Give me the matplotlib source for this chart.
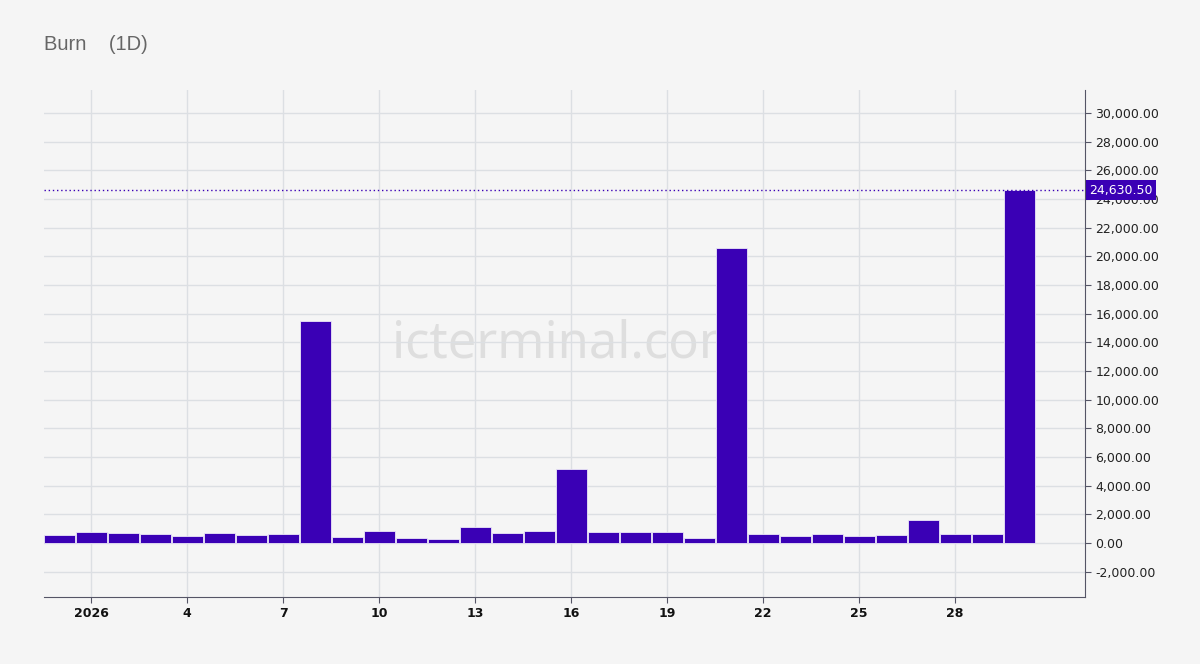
import datetime as dt
import matplotlib
matplotlib.use("Agg")
import matplotlib.pyplot as plt
import matplotlib.dates as mdates
from matplotlib.ticker import FuncFormatter

# daily burn, 2025-12-31 .. 2026-01-30
start = dt.date(2025, 12, 31)
burn = [535, 790, 700, 650, 465, 720, 580, 630, 15490, 395, 815,
        350, 303, 1116, 700, 815, 5165, 745, 745, 745, 350, 20590,
        650, 490, 650, 510, 560, 1605, 630, 630, 24630.5]
days = [start + dt.timedelta(days=i) for i in range(len(burn))]
last_value = burn[-1]

tick_days = [dt.date(2026, 1, d) for d in range(1, 29, 3)]
tick_labels = ["2026"] + [str(d.day) for d in tick_days[1:]]
y_ticks = list(range(-2000, 30001, 2000))

bg = "#f5f5f5"
bar_color = "#3a00b5"

fig = plt.figure(figsize=(12, 6.64), dpi=100, facecolor=bg)
ax = fig.add_axes([44 / 1200, 1 - 597 / 664, (1085 - 44) / 1200, (597 - 90) / 664])
ax.set_facecolor(bg)

ax.bar(days, burn, width=0.97, color=bar_color, edgecolor="#ebe7f7",
       linewidth=0.6, zorder=3)

ax.axhline(last_value, color=bar_color, linestyle=(0, (1, 2)), linewidth=1, zorder=4)
ax.annotate(f"{last_value:,.2f}", xy=(1, last_value), xycoords=("axes fraction", "data"),
            xytext=(3, 0), textcoords="offset points", ha="left", va="center",
            color="white", fontsize=9,
            bbox=dict(boxstyle="square,pad=0.28", fc=bar_color, ec="none"))

# watermark sits behind the bars
ax.text(0.504, 0.5, "icterminal.com", transform=ax.transAxes, fontsize=36.5,
        color="#dedede", ha="center", va="center", zorder=1,
        family="Noto Sans")

jan1 = mdates.date2num(dt.date(2026, 1, 1))
ax.set_xlim(jan1 - 1.47, jan1 + 31.06)
ax.set_ylim(-3770, 31610)

ax.set_xticks([mdates.date2num(d) for d in tick_days])
ax.set_xticklabels(tick_labels, fontweight="bold", fontsize=9, color="#111111")
ax.set_yticks(y_ticks)
ax.yaxis.set_major_formatter(FuncFormatter(lambda v, p: f"{v:,.2f}"))
ax.yaxis.tick_right()
ax.tick_params(axis="y", labelsize=9, colors="#222222", length=4, color="#555566")
ax.tick_params(axis="x", length=4, color="#555566")

ax.grid(True, color="#dcdfe3", linewidth=1, zorder=0)
for side in ["top", "left"]:
    ax.spines[side].set_visible(False)
for side in ["bottom", "right"]:
    ax.spines[side].set_color("#555566")

fig.text(44 / 1200, 1 - 45 / 664, "Burn    (1D)", fontsize=14.5, color="#666666",
         ha="left", va="center", family="Liberation Sans")

fig.savefig("out.png", dpi=100, facecolor=bg)
